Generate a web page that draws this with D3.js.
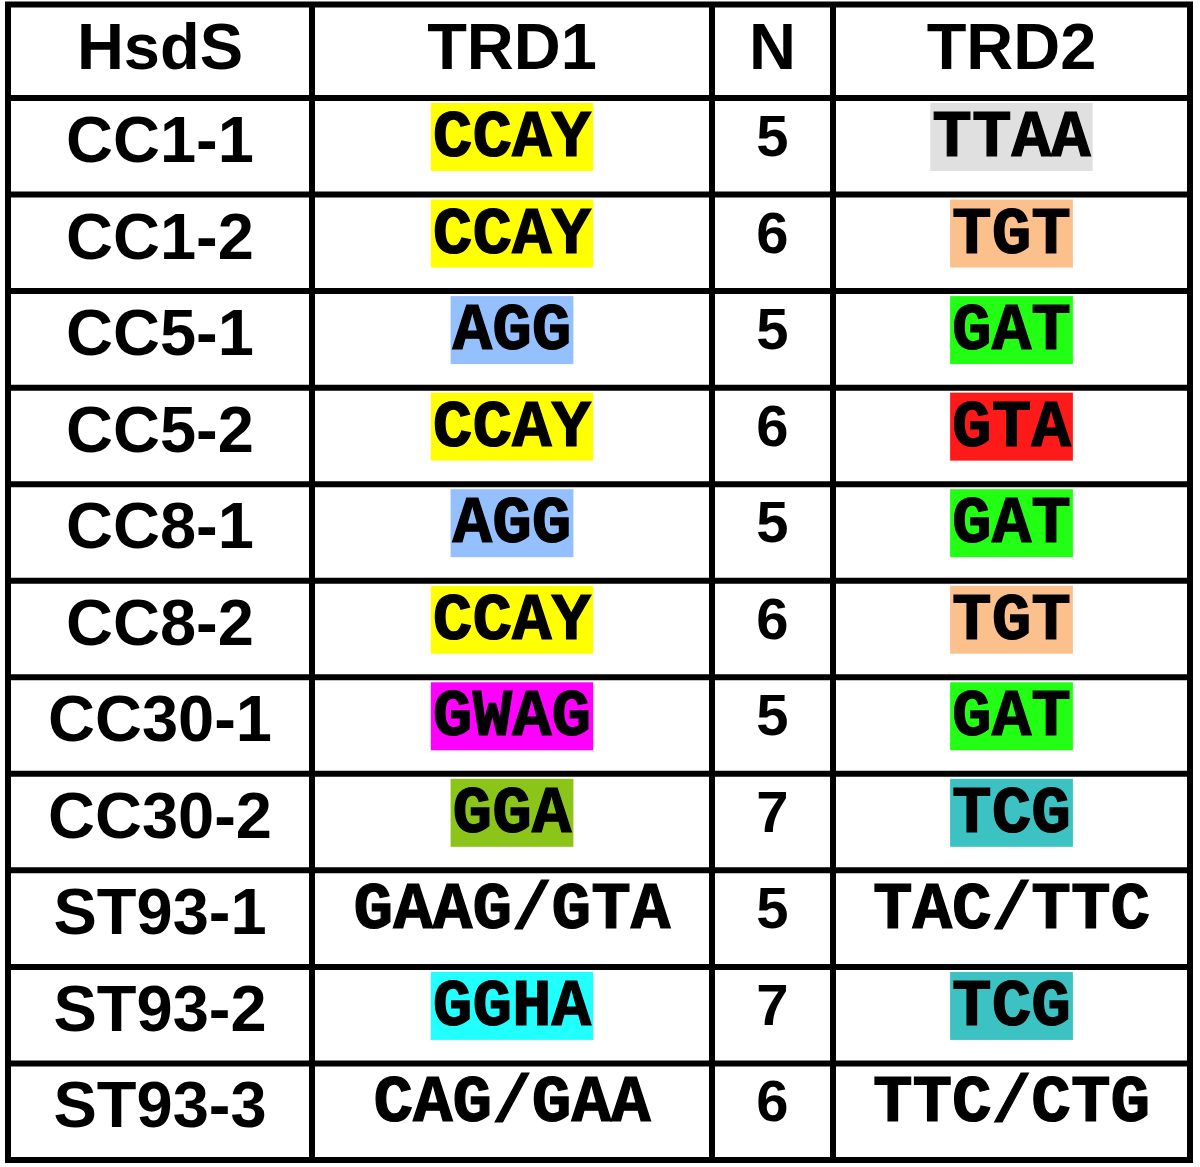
<!DOCTYPE html>
<html>
<head>
<meta charset="utf-8">
<script src="https://cdn.jsdelivr.net/npm/d3@7"></script>
<style>
  body { margin: 0; background: #fff; }
</style>
</head>
<body>
<div id="table_chart"></div>
<script>
// HsdS table: target recognition domains per allele

const headers = ["HsdS", "TRD1", "N", "TRD2"];
const hsds = ["CC1-1", "CC1-2", "CC5-1", "CC5-2", "CC8-1", "CC8-2",
              "CC30-1", "CC30-2", "ST93-1", "ST93-2", "ST93-3"];
const trd1 = ["CCAY", "CCAY", "AGG", "CCAY", "AGG", "CCAY",
              "GWAG", "GGA", "GAAG/GTA", "GGHA", "CAG/GAA"];
const nValues = [5, 6, 5, 6, 5, 6, 5, 7, 5, 7, 6];
const trd2 = ["TTAA", "TGT", "GAT", "GTA", "GAT", "TGT",
              "GAT", "TCG", "TAC/TTC", "TCG", "TTC/CTG"];

// highlight colour per motif (motifs with a slash have none)
const motifs = ["CCAY", "AGG", "GWAG", "GGA", "GGHA", "TTAA", "TGT", "GAT", "GTA", "TCG"];
const motifColors = ["#ffff00", "#94c0ff", "#ff00ff", "#8cc51a", "#22ffff",
                     "#e0e0e0", "#fcc08c", "#22ff14", "#ff1a1a", "#3cc2c2"];

const width = 1200;
const height = 1167;
const colEdges = [8, 312, 712, 833, 1190];
const tableTop = 4.5, headerBottom = 98, tableBottom = 1160;
const lineW = 6;

const sans = "'Liberation Sans', Arial, Helvetica, sans-serif";
const mono = "'Courier New', 'Liberation Mono', monospace";

const color = d3.scaleOrdinal().domain(motifs).range(motifColors).unknown(null);

const y = d3.scaleBand()
  .domain(hsds)
  .range([headerBottom, tableBottom]);

const svg = d3.select("#table_chart")
  .append("svg")
  .attr("width", width)
  .attr("height", height);

const colCenter = i => (colEdges[i] + colEdges[i + 1]) / 2;

// header
svg.append("g")
  .selectAll("text")
  .data(headers)
  .join("text")
    .attr("x", (d, i) => colCenter(i))
    .attr("y", tableTop + 64)
    .attr("text-anchor", "middle")
    .style("font-family", sans)
    .style("font-weight", "bold")
    .style("font-size", "65px")
    .text(d => d);

const rows = hsds.map((name, i) => ({ name: name, trd1: trd1[i], n: nValues[i], trd2: trd2[i] }));

const row = svg.append("g")
  .selectAll("g")
  .data(rows)
  .join("g")
    .attr("transform", d => `translate(0,${y(d.name)})`);

// highlight boxes behind the motifs
function motifCell(sel, key, col) {
  const monoSize = 66;
  const adv = 0.6 * monoSize;
  sel.filter(d => color(d[key]) !== null)
    .append("rect")
      .attr("x", d => colCenter(col) - d[key].length * adv / 2 - 2)
      .attr("y", 5)
      .attr("width", d => d[key].length * adv + 4)
      .attr("height", 68)
      .attr("fill", d => color(d[key]));

  sel.append("text")
    .attr("x", colCenter(col))
    .attr("y", 58)
    .attr("text-anchor", "middle")
    .attr("stroke", "#000")
    .attr("stroke-width", 1.2)
    .style("font-family", mono)
    .style("font-weight", "bold")
    .style("font-size", monoSize + "px")
    .text(d => d[key]);
}

row.append("text")
  .attr("x", colCenter(0))
  .attr("y", 64)
  .attr("text-anchor", "middle")
  .style("font-family", sans)
  .style("font-weight", "bold")
  .style("font-size", "65px")
  .text(d => d.name);

motifCell(row, "trd1", 1);

row.append("text")
  .attr("x", colCenter(2))
  .attr("y", 58)
  .attr("text-anchor", "middle")
  .style("font-family", sans)
  .style("font-weight", "bold")
  .style("font-size", "58px")
  .text(d => d.n);

motifCell(row, "trd2", 3);

// grid lines
const grid = svg.append("g")
  .attr("stroke", "#000")
  .attr("stroke-width", lineW)
  .attr("fill", "none");

const hLines = [tableTop, headerBottom].concat(hsds.slice(1).map(d => y(d)), [tableBottom]);
grid.selectAll("line.h")
  .data(hLines)
  .join("line")
    .attr("class", "h")
    .attr("x1", colEdges[0] - lineW / 2)
    .attr("x2", colEdges[colEdges.length - 1] + lineW / 2)
    .attr("y1", d => d)
    .attr("y2", d => d);

grid.selectAll("line.v")
  .data(colEdges)
  .join("line")
    .attr("class", "v")
    .attr("x1", d => d)
    .attr("x2", d => d)
    .attr("y1", tableTop)
    .attr("y2", tableBottom);
</script>
</body>
</html>
